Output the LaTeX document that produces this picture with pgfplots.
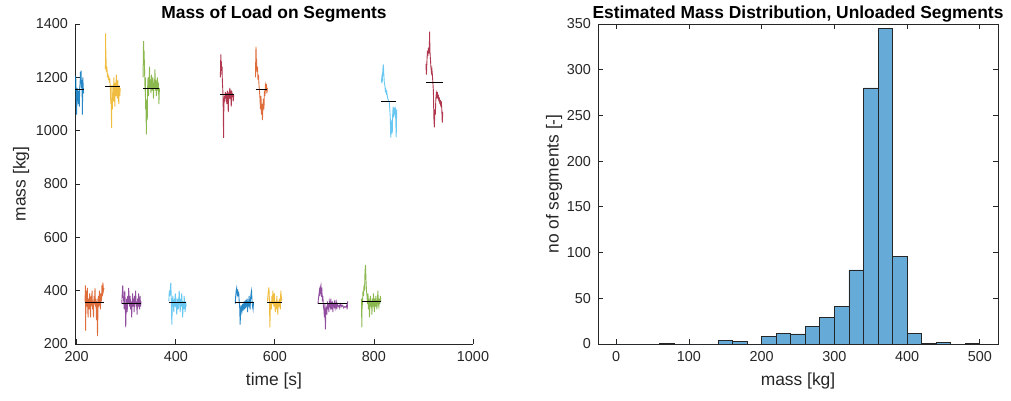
\documentclass[border=0pt]{standalone}
\usepackage{fontspec}
\setmainfont{Liberation Sans}
\usepackage{pgfplots}
\pgfplotsset{compat=1.18}

\definecolor{mblue}{RGB}{0,114,189}
\definecolor{morange}{RGB}{217,83,25}
\definecolor{myellow}{RGB}{237,177,32}
\definecolor{mpurple}{RGB}{126,47,142}
\definecolor{mgreen}{RGB}{119,172,48}
\definecolor{mcyan}{RGB}{77,190,238}
\definecolor{mred}{RGB}{162,20,47}
\definecolor{axgray}{RGB}{38,38,38}
\definecolor{histfill}{RGB}{102,170,215}

\pgfplotsset{
  mlab/.style={
    scale only axis,
    axis line style={axgray, line width=0.4pt},
    tick style={axgray, line width=0.4pt},
    major tick length=2.5pt,
    tick align=inside,
    tick label style={font=\fontsize{7.2}{8.6}\selectfont, text=axgray},
    label style={font=\fontsize{8.7}{10.4}\selectfont, text=axgray},
    every axis title/.style={font=\fontsize{8.7}{10.4}\selectfont\bfseries, text=black,
      at={(0.5,1)}, anchor=base, yshift=2.8pt, inner sep=0pt},
    /pgf/number format/assume math mode=true,
    /pgf/number format/1000 sep={},
  },
  seg/.style={line width=0.45pt, opacity=0.85},
  mline/.style={black, line width=0.5pt},
}

\begin{document}
\begin{tikzpicture}
\useasboundingbox (0,0) rectangle (505.5pt,200.5pt);

\begin{axis}[mlab,
  at={(37.5pt,28.5pt)}, anchor=south west,
  width=199pt, height=160pt,
  xmin=196.6, xmax=1000, ymin=200, ymax=1400,
  xtick={200,400,...,1000}, ytick={200,400,...,1400},
  axis x line*=bottom, axis y line*=left,
  xlabel={time [s]}, ylabel={mass [kg]},
  ylabel shift=-3.5pt, xlabel shift=-1pt,
  title={Mass of Load on Segments},
]
% segment 1, blue, loaded
\addplot[seg, mblue] coordinates {
(197,1170)(197.5,1150)(198,1205)(198.5,1180)(199,1120)(199.5,1100)(200,1060)(200.5,1130)
(201,1160)(201.5,1150)(202,1110)(203,1140)(203.5,1100)(204,1150)(205,1130)(205.5,1090)
(206,1160)(207,1180)(207.5,1220)(208,1200)(209,1225)(209.5,1160)(210,1190)(211,1150)
(211.5,1060)(212,1130)(212.5,1200)(213,1170)(214,1140)};
\addplot[mline] coordinates {(197,1155)(214,1155)};
% segment 2, orange, unloaded
\addplot[seg, morange] coordinates {
(217,360)(217.5,420)(218,250)(218.5,330)(219,400)(220,380)(221,340)(221.5,410)(222,350)
(223,300)(224,370)(225,330)(226,390)(227,360)(228,300)(229,380)(230,345)(231,400)(232,330)
(233,360)(234,300)(235,380)(236,350)(237,410)(238,340)(239,360)(240,290)(241,370)(242,230)
(243,330)(244,380)(245,340)(246,400)(247,360)(248,330)(249,390)(250,360)(251,420)(252,380)
(253,430)(254,400)(255,410)};
\addplot[mline] coordinates {(217,355)(255,355)};
% segment 3, yellow, loaded
\addplot[seg, myellow] coordinates {
(258,1230)(258.5,1365)(259,1250)(259.5,1270)(260,1220)(261,1240)(262,1200)(263,1215)
(264,1190)(265,1205)(266,1180)(267,1195)(268,1150)(269,1100)(269.5,1170)(270,1060)
(270.5,1010)(271,1120)(272,1080)(273,1170)(274,1110)(275,1200)(276,1150)(277,1090)
(278,1180)(279,1130)(280,1210)(281,1160)(282,1120)(283,1190)(284,1140)(285,1100)
(286,1170)(287,1130)(288,1160)};
\addplot[mline] coordinates {(258,1165)(288,1165)};
% segment 4, purple, unloaded
\addplot[seg, mpurple] coordinates {
(291,350)(292,390)(293,420)(294,380)(295,360)(296,330)(297,400)(298,360)(299,262)(300,340)
(301,370)(302,320)(303,380)(304,350)(305,410)(306,360)(307,340)(308,380)(309,330)(310,360)
(311,300)(312,350)(313,390)(314,340)(315,370)(316,320)(317,380)(318,350)(319,400)(320,340)
(321,360)(322,310)(323,370)(324,340)(325,390)(326,350)(327,330)(328,380)(329,340)(330,360)};
\addplot[mline] coordinates {(291,353)(330,353)};
% segment 5, green, loaded
\addplot[seg, mgreen] coordinates {
(334,1200)(334.5,1290)(335,1336)(335.5,1260)(336,1300)(337,1230)(338,1150)(338.5,1200)
(339,1080)(340,1120)(340.5,985)(341,1060)(342,1100)(342.5,1040)(343,1150)(344,1200)
(345,1130)(346,1180)(347,1240)(348,1160)(349,1190)(350,1140)(351,1210)(352,1170)
(353,1150)(354,1200)(355,1120)(356,1180)(357,1160)(358,1230)(359,1150)(360,1190)
(361,1130)(362,1170)(363,1200)(364,1150)(365,1180)(366,1100)(367,1160)};
\addplot[mline] coordinates {(334,1159)(367,1159)};
% segment 6, light blue, unloaded
\addplot[seg, mcyan] coordinates {
(386,360)(387,400)(388,380)(389,410)(390,430)(391,370)(392,273)(393,340)(394,380)(395,350)
(396,320)(397,370)(398,340)(399,390)(400,350)(401,360)(402,310)(403,340)(404,370)(405,330)
(406,360)(407,400)(408,350)(409,320)(410,370)(411,340)(412,390)(413,350)(414,300)(415,360)
(416,330)(417,380)(418,345)(419,320)(420,360)(421,340)};
\addplot[mline] coordinates {(386,355)(421,355)};
% segment 7, red, loaded
\addplot[seg, mred] coordinates {
(490,1200)(490.5,1250)(491,1286)(491.5,1230)(492,1260)(493,1210)(493.5,1240)(494,1190)
(495,1150)(495.5,1120)(496,1060)(496.5,973)(497,1080)(498,1130)(499,1110)(500,1145)
(501,1120)(502,1140)(503,1100)(504,1150)(505,1130)(506,1070)(507,1145)(508,1120)
(509,1160)(510,1130)(511,1140)(512,1090)(513,1150)(514,1125)(515,1140)(516,1110)(517,1135)};
\addplot[mline] coordinates {(490,1137)(517,1137)};
% segment 8, blue, unloaded
\addplot[seg, mblue] coordinates {
(520,350)(521,380)(522,400)(523,410)(524,390)(525,405)(526,380)(527,395)(528,360)(529,340)
(530,273)(531,330)(532,320)(533,345)(534,330)(535,350)(536,325)(537,340)(538,360)(539,330)
(540,350)(541,335)(542,365)(543,340)(544,370)(545,320)(546,360)(547,340)(548,380)(549,350)
(550,330)(551,370)(552,390)(553,400)(554,360)(555,340)(556,330)(557,355)};
\addplot[mline] coordinates {(520,357)(557,357)};
% segment 9, orange, loaded
\addplot[seg, morange] coordinates {
(561,1200)(561.5,1280)(562,1315)(562.5,1250)(563,1270)(564,1220)(565,1240)(566,1190)
(567,1210)(568,1170)(569,1150)(570,1120)(571,1080)(572,1130)(573,1060)(574,1100)
(575,1040)(576,1090)(577,1120)(578,1080)(579,1150)(580,1130)(581,1170)(582,1160)
(583,1175)(584,1140)(585,1160)};
\addplot[mline] coordinates {(561,1155)(585,1155)};
% segment 10, yellow, unloaded
\addplot[seg, myellow] coordinates {
(585,360)(586,380)(587,400)(588,412)(589,370)(590,262)(591,340)(592,360)(593,330)(594,380)
(595,350)(596,400)(597,370)(598,340)(599,390)(600,350)(601,320)(602,360)(603,330)(604,380)
(605,345)(606,310)(607,360)(608,340)(609,370)(610,350)(611,330)(612,400)(613,380)(614,360)};
\addplot[mline] coordinates {(585,357)(614,357)};
% segment 11, purple, unloaded
\addplot[seg, mpurple] coordinates {
(687,350)(688,370)(690,400)(691,380)(692,410)(693,420)(694,390)(695,400)(696,360)(697,380)
(698,340)(699,330)(700,300)(701,350)(702,255)(703,320)(704,340)(705,310)(706,360)(707,330)
(708,350)(709,320)(710,360)(712,340)(713,370)(714,330)(716,360)(717,320)(718,350)(720,340)
(721,365)(722,335)(724,355)(725,330)(726,350)(728,340)(730,345)(731,335)(733,350)(735,340)
(737,345)(739,335)(741,340)(743,338)(745,345)(746,330)(747,360)};
\addplot[mline] coordinates {(687,351)(745,351)};
% segment 12, green, unloaded
\addplot[seg, mgreen] coordinates {
(775,370)(775.5,262)(776,330)(777,360)(778,400)(779,380)(780,420)(781,400)(782,470)(783,497)
(784,440)(785,400)(786,380)(787,350)(788,390)(789,330)(790,370)(791,300)(792,350)(793,380)
(794,340)(795,360)(796,310)(797,370)(798,340)(799,390)(800,350)(801,320)(802,370)(803,340)
(804,380)(805,350)(806,330)(807,360)(808,400)(809,350)(810,340)(811,370)(812,350)(813,380)
(814,360)};
\addplot[mline] coordinates {(775,359)(814,359)};
% segment 13, light blue, loaded
\addplot[seg, mcyan] coordinates {
(815,1180)(816,1200)(817,1190)(818,1230)(819,1248)(820,1210)(821,1180)(822,1170)(823,1150)
(824,1155)(825,1140)(826,1145)(827,1130)(828,1120)(829,1115)(830,1110)(831,1105)(832,1080)
(833,1050)(834,974)(835,1000)(836,1040)(837,990)(838,1070)(839,1090)(840,1050)(841,1085)
(842,1060)(843,1090)(844,1045)(845,975)(846,1080)};
\addplot[mline] coordinates {(815,1111)(845,1111)};
% segment 14, red, loaded
\addplot[seg, mred] coordinates {
(905,1230)(905.5,1250)(906,1210)(907,1260)(908,1300)(909,1280)(910,1310)(911,1290)
(912,1330)(912.5,1371)(913,1300)(914,1270)(915,1240)(916,1220)(917,1230)(918,1210)
(919,1180)(920,1150)(921,1050)(922,1012)(923,1080)(924,1060)(925,1120)(926,1140)
(927,1130)(928,1145)(929,1120)(930,1135)(931,1110)(932,1125)(933,1100)(934,1115)
(935,1090)(936,1110)(937,1080)(938,1030)(939,1070)};
\addplot[mline] coordinates {(905,1180)(939,1180)};
\end{axis}

\begin{axis}[mlab,
  at={(299pt,28.5pt)}, anchor=south west,
  width=200pt, height=160pt,
  xmin=-25, xmax=525, ymin=0, ymax=350,
  xtick={0,100,...,500}, ytick={0,50,...,350},
  xlabel={mass [kg]}, ylabel={no of segments [-]},
  ylabel shift=-4.5pt, xlabel shift=-1pt,
  title={Estimated Mass Distribution, Unloaded Segments},
]
\addplot[ybar interval, fill=histfill, draw=black!85, line width=0.4pt] coordinates {
(0,0)(20,0)(40,0)(60,1)(80,0)(100,0)(120,0)(140,4)(160,3)(180,0)
(200,8)(220,12)(240,11)(260,19)(280,29)(300,41)(320,81)(340,280)(360,345)(380,96)
(400,12)(420,1)(440,2)(460,0)(480,1)(500,1)};
\end{axis}
\end{tikzpicture}
\end{document}
